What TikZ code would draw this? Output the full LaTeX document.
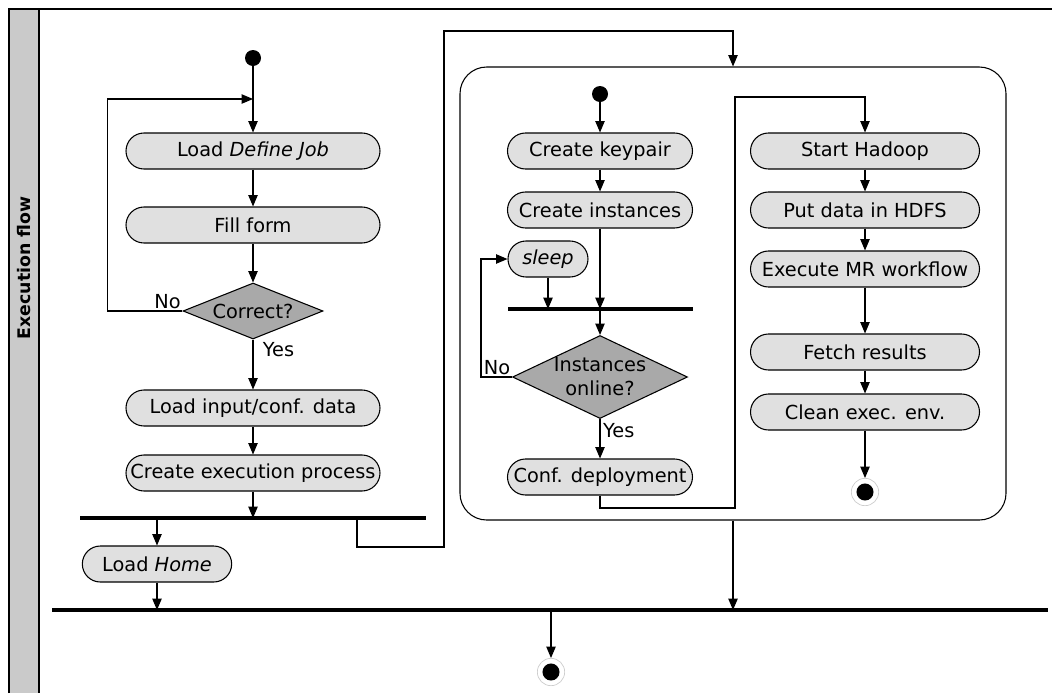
\documentclass[tikz,border=0pt]{standalone}
\usepackage{fontspec}
\setmainfont{DejaVu Sans}
\usetikzlibrary{arrows.meta}
\usetikzlibrary{shapes.geometric}
\usetikzlibrary{positioning}
\usetikzlibrary{calc}

\definecolor{actfill}{HTML}{E0E0E0}
\definecolor{decfill}{HTML}{A9A9A9}
\definecolor{lanefill}{HTML}{CACACA}
\definecolor{ringgray}{HTML}{CCCCCC}

\begin{document}
\begin{tikzpicture}[x=0.75pt,y=-0.75pt,
	font=\fontsize{14.5}{18}\selectfont,
	act/.style={draw,fill=actfill,rounded corners=13.5pt,minimum height=27pt,inner sep=0pt,line width=0.8pt},
	dec/.style={diamond,draw,fill=decfill,inner sep=0pt,line width=0.8pt},
	startdot/.style={circle,fill=black,minimum size=12pt,inner sep=0pt},
	enddot/.style={circle,draw=ringgray,line width=0.5pt,fill=white,minimum size=20.5pt,inner sep=0pt,
		path picture={\fill[black] (path picture bounding box.center) circle (6.4pt);}},
	bar/.style={line width=2.7pt},
	flow/.style={line width=0.8pt,-{Triangle[length=8.5pt,width=7pt]}},
	guard/.style={inner sep=1pt}]
	\useasboundingbox (0,0) rectangle (1052,693);
	%SWIMLANE
	\fill[lanefill] (9,9) rectangle (39,693);
	\draw[line width=0.8pt] (9,693) -- (9,9) -- (1052,9);
	\draw[line width=0.8pt] (39,9) -- (39,693);
	\node[rotate=90,font=\fontsize{13}{15}\bfseries\selectfont] (lane) at (24,268) {Execution flow};

	%COLUMN 1
	\node [startdot] (S1) at (253,58) {};
	\node [act,minimum width=190.5pt] (A1) at (253,151) {Load \textit{Define Job}};
	\node [act,minimum width=190.5pt] (A2) at (253,225) {Fill form};
	\node [dec,minimum width=105pt,minimum height=42pt,label={center:Correct?}] (D1) at (253,311) {};
	\node [act,minimum width=190.5pt] (A3) at (253,408) {Load input/conf. data};
	\node [act,minimum width=190.5pt] (A4) at (253,473) {Create execution process};
	\node [act,minimum width=112pt] (A5) at (157,564) {Load \textit{Home}};
	\coordinate (L1) at (253,99);
	\draw[flow] (S1) -- (A1);
	\draw[flow] (A1) -- (A2);
	\draw[flow] (A2) -- (D1);
	\draw[flow] (D1.west) node[guard,anchor=south east] {No} -- ++(-75,0) |- (L1);
	\draw[flow] (D1.south) node[guard,anchor=north west,xshift=6pt,yshift=-1pt] {Yes} -- (A3);
	\draw[flow] (A3) -- (A4);
	%FORK 1
	\coordinate (F1l) at (80,518);
	\coordinate (F1r) at (426,518);
	\coordinate (F1o) at (357,518);
	\draw[bar] (F1l) -- (F1r);
	\draw[flow] (A4) -- (A4 |- F1l);
	\draw[flow] (A5 |- F1l) -- (A5);

	%CONTAINER
	\node [draw,line width=0.8pt,rounded corners=20pt,minimum width=409.5pt,minimum height=339.75pt] (box) at (733,293.5) {};
	\draw[flow] (F1o) -- ++(0,29) -| (444,31) -| (box.north);

	%COLUMN 2
	\node [startdot] (S2) at (600,94) {};
	\node [act,minimum width=138.75pt] (B1) at (600,151) {Create keypair};
	\node [act,minimum width=138.75pt] (B2) at (600,210) {Create instances};
	\node [act,minimum width=60pt] (B3) at (548,259) {\textit{sleep}};
	\node [dec,minimum width=131.25pt,minimum height=62.25pt,label={[align=center]center:Instances\\online?}] (D2) at (600,377) {};
	\node [act,minimum width=138.75pt] (B4) at (600,477) {Conf. deployment};
	\coordinate (F2l) at (508,309);
	\coordinate (F2r) at (693,309);
	\draw[bar] (F2l) -- (F2r);
	\draw[flow] (S2) -- (B1);
	\draw[flow] (B1) -- (B2);
	\draw[flow] (B2) -- (B2 |- F2l);
	\draw[flow] (B3) -- (B3 |- F2l);
	\draw[flow] (D2 |- F2l) -- (D2);
	\draw[flow] (D2.west) node[guard,anchor=south east] {No} -- ++(-31,0) |- (B3);
	\draw[flow] (D2.south) node[guard,anchor=north west,xshift=1pt,yshift=-2pt] {Yes} -- (B4);

	%COLUMN 3
	\node [act,minimum width=171.75pt] (C1) at (865,151) {Start Hadoop};
	\node [act,minimum width=171.75pt] (C2) at (865,210) {Put data in HDFS};
	\node [act,minimum width=171.75pt] (C3) at (865,269) {Execute MR workflow};
	\node [act,minimum width=171.75pt] (C4) at (865,352) {Fetch results};
	\node [act,minimum width=171.75pt] (C5) at (865,412) {Clean exec. env.};
	\node [enddot] (E1) at (865,492) {};
	\draw[flow] (B4) -- ++(0,31) -| (735,97) -| (C1);
	\draw[flow] (C1) -- (C2);
	\draw[flow] (C2) -- (C3);
	\draw[flow] (C3) -- (C4);
	\draw[flow] (C4) -- (C5);
	\draw[flow] (C5) -- (E1);

	%JOIN
	\coordinate (J1l) at (52,610);
	\coordinate (J1r) at (1048,610);
	\coordinate (J1o) at (551,610);
	\draw[bar] (J1l) -- (J1r);
	\draw[flow] (A5) -- (A5 |- J1l);
	\draw[flow] (box.south) -- (box.south |- J1l);
	\node [enddot] (E2) at (551,672) {};
	\draw[flow] (J1o) -- (E2);
\end{tikzpicture}
\end{document}
